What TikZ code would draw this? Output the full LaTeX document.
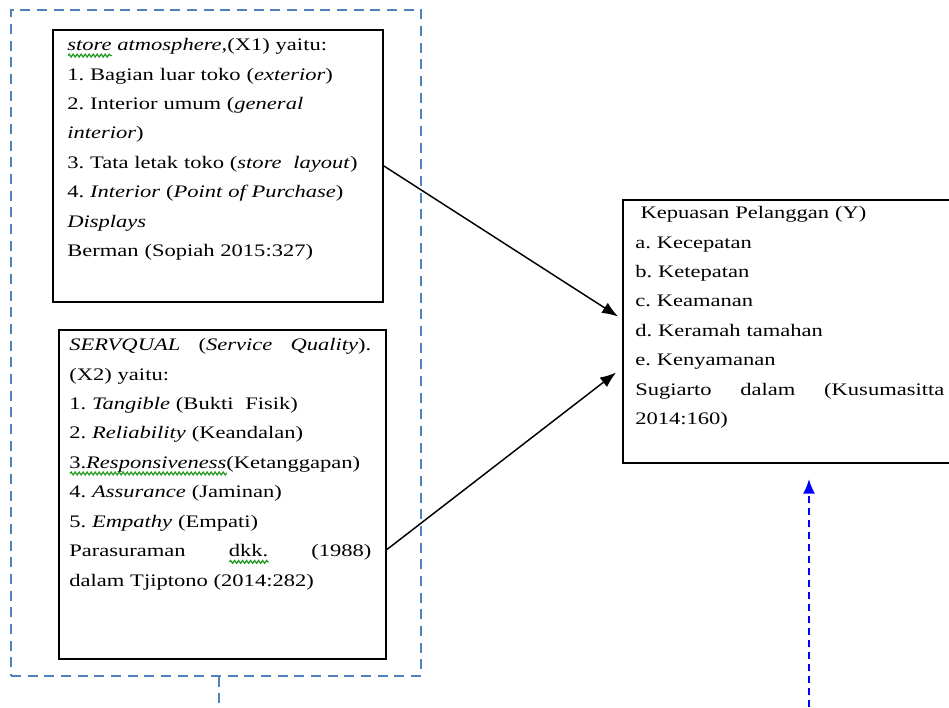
\documentclass[tikz,border=0pt]{standalone}
\usepackage{fontspec}
\setmainfont{Liberation Serif}[FakeStretch=1.28]
\usetikzlibrary{arrows.meta,decorations.pathmorphing}
\definecolor{birumuda}{RGB}{79,129,189}
\definecolor{hijau}{RGB}{30,150,30}
\frenchspacing
\newsavebox\kata
\newcommand\gelombang[1]{\sbox\kata{#1}\leavevmode\rlap{\tikz[baseline=0pt,x=1pt,y=1pt]\draw[hijau,line width=0.9pt,decorate,decoration={snake,amplitude=1.1pt,segment length=3pt}] (0,-3.8) -- (\wd\kata,-3.8);}\usebox\kata}
\begin{document}
\begin{tikzpicture}[x=0.75pt,y=-0.75pt]
	\tikzset{kotak/.style={draw,line width=1.4pt,inner sep=0pt},
		teks/.style={anchor=north west,inner sep=0pt,align=left,font=\fontsize{13.2}{22.1}\selectfont},
		bingkai/.style={draw=birumuda,line width=1pt,dash pattern=on 7.5pt off 5pt},
		panah/.style={-{Latex[length=12pt,width=9pt]},line width=1.1pt},
		panahbiru/.style={draw=blue,line width=1.5pt,dash pattern=on 5pt off 4pt,-{Latex[length=11pt,width=9pt]}}}
	\useasboundingbox (0,0) rectangle (949,707);
	% kerangka putus-putus
	\node[bingkai,minimum width=307.5pt,minimum height=499.5pt] (kerangka) at (216,343) {};
	\draw[bingkai] ([xshift=2.25pt]kerangka.south) -- ++(0,31);
	% kotak variabel
	\node[kotak,minimum width=247.5pt,minimum height=204pt] (x1) at (218,166) {};
	\node[kotak,minimum width=245.25pt,minimum height=246.75pt] (x2) at (222.5,494.5) {};
	\node[kotak,minimum width=264pt,minimum height=197.25pt] (y) at (799,331.5) {};
	\node[teks,text width=225pt] (x1t) at ([shift={(15,9)}]x1.north west) {%
		\gelombang{\textit{store}} \textit{atmosphere},(X1) yaitu:\\
		1. Bagian luar toko (\textit{exterior})\\
		2. Interior umum (\textit{general}\\
		\textit{interior})\\
		3. Tata letak toko (\textit{store}~ \textit{layout})\\
		4. \textit{Interior} (\textit{Point of Purchase})\\
		\textit{Displays}\\
		Berman (Sopiah 2015:327)};
	\node[teks,text width=226.5pt] (x2t) at ([shift={(11,9)}]x2.north west) {%
		\textit{SERVQUAL} \hfill (\textit{Service} \hfill \textit{Quality}).\\
		(X2) yaitu:\\
		1. \textit{Tangible} (Bukti~ Fisik)\\
		2. \textit{Reliability} (Keandalan)\\
		\gelombang{3.\textit{Responsiveness}}(Ketanggapan)\\
		4. \textit{Assurance} (Jaminan)\\
		5. \textit{Empathy} (Empati)\\
		Parasuraman \hfill \gelombang{dkk.} \hfill (1988)\\
		dalam Tjiptono (2014:282)};
	\node[teks,text width=231.75pt] (yt) at ([shift={(13,7)}]y.north west) {%
		\hspace{4pt}Kepuasan Pelanggan (Y)\\
		a. Kecepatan\\
		b. Ketepatan\\
		c. Keamanan\\
		d. Keramah tamahan\\
		e. Kenyamanan\\
		Sugiarto \hfill dalam \hfill (Kusumasitta\\
		2014:160)};
	% panah
	\draw[panah] (x1.east) -- ([shift={(-4,-15)}]y.west);
	\draw[panah] ([shift={(0,55)}]x2.east) -- ([shift={(-6,41)}]y.west);
	\coordinate (bawah) at (809,707);
	\draw[panahbiru] (bawah) -- ([shift={(10,15)}]y.south);
\end{tikzpicture}
\end{document}
